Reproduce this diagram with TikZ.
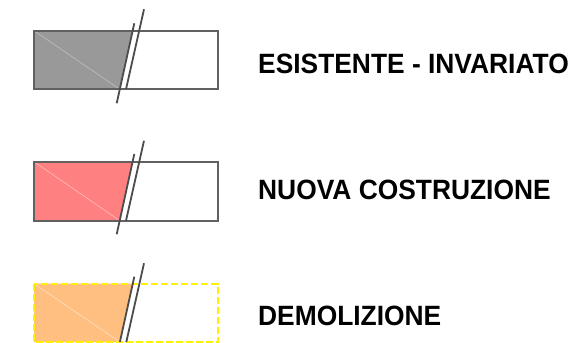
\documentclass[tikz,border=0pt]{standalone}
\usepackage{fontspec}
\setmainfont[FakeStretch=0.945]{Liberation Sans}
\begin{document}
\begin{tikzpicture}[x=1pt,y=-1pt,
  frame/.style={draw=black!62,line width=2pt},
  cutline/.style={draw=black!70,line width=1.8pt},
  diag/.style={line width=0.6pt},
  label/.style={anchor=base west,inner sep=0pt,font=\bfseries\fontsize{27.9}{30}\selectfont}]
\useasboundingbox (0,0) rectangle (579,343);
% row 1
\fill[black!40] (34,30.7) -- (132.7,30.7) -- (119.8,89.3) -- (34,89.3) -- cycle;
\draw[diag,black!25] (34,30.7) -- (119.8,89.3);
\draw[frame] (34,30.7) rectangle (217.7,89.3);
\draw[cutline] (134.3,23.3) -- (116.7,103.3);
\draw[cutline] (144,9.3) -- (126,89.3);
\node[label] (t1) at (258,73.3) {ESISTENTE - INVARIATO};
% row 2
\fill[red!50] (34,161.7) -- (132.7,161.7) -- (119.8,220.7) -- (34,220.7) -- cycle;
\draw[diag,red!25] (34,161.7) -- (119.8,220.7);
\draw[frame] (34,161.7) rectangle (217.7,220.7);
\draw[cutline] (134.3,154) -- (116.7,234.3);
\draw[cutline] (144,140.7) -- (126,220.7);
\node[label] (t2) at (258,199.3) {NUOVA COSTRUZIONE};
% row 3
\definecolor{demol}{RGB}{255,191,128}
\fill[demol] (34,283.7) -- (132.6,283.7) -- (119.9,342) -- (34,342) -- cycle;
\draw[diag,demol!50] (34,283.7) -- (119.9,342);
\draw[line width=2pt,yellow,dash pattern=on 7pt off 3pt] (34,283.7) rectangle (217.7,342);
\draw[cutline] (134.3,276.7) -- (119.9,342);
\draw[cutline] (144,263.3) -- (126.3,342);
\node[label] (t3) at (258,325) {DEMOLIZIONE};
\end{tikzpicture}
\end{document}
